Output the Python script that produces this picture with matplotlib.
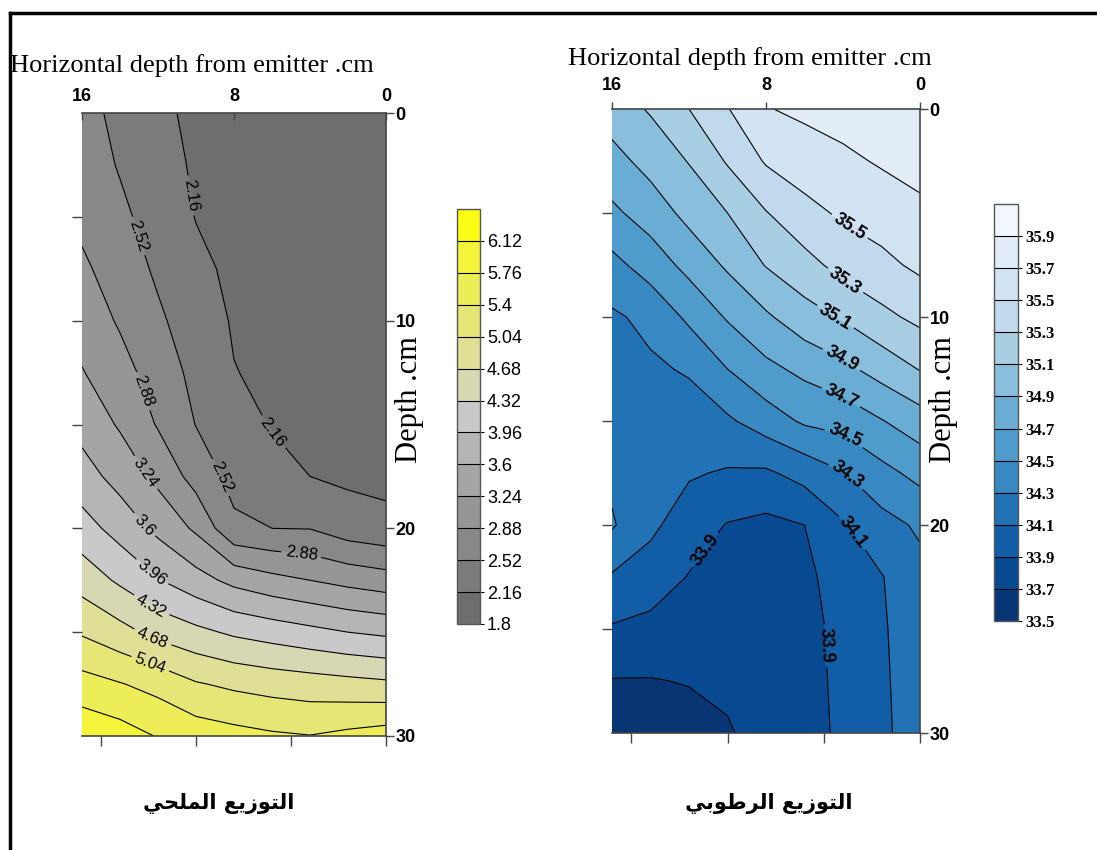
import numpy as np
import matplotlib.pyplot as plt
from matplotlib.lines import Line2D
from matplotlib.ticker import FormatStrFormatter

plt.rcParams['font.family'] = ['Liberation Sans', 'DejaVu Sans']

# horizontal distance from emitter (cm) and depth (cm) of the grid nodes
dist = [0, 2, 4, 6, 8, 10, 12, 14, 16]
depth = [0, 2.5, 5, 7.5, 10, 12.5, 15, 17.5, 20, 22.5, 25, 27.5, 30]

# salt distribution, one row per depth, columns follow dist
salt = [
    [1.92, 1.94, 1.96, 2.00, 2.04, 2.10, 2.22, 2.40, 2.68],
    [1.93, 1.95, 1.97, 2.00, 2.05, 2.12, 2.28, 2.49, 2.72],
    [1.94, 1.96, 1.98, 2.02, 2.07, 2.15, 2.36, 2.60, 2.80],
    [1.96, 1.98, 2.00, 2.04, 2.10, 2.23, 2.46, 2.72, 2.94],
    [1.98, 2.00, 2.03, 2.07, 2.13, 2.33, 2.58, 2.84, 3.09],
    [2.01, 2.03, 2.06, 2.10, 2.17, 2.42, 2.72, 3.01, 3.26],
    [2.04, 2.06, 2.09, 2.14, 2.29, 2.51, 2.85, 3.20, 3.48],
    [2.08, 2.10, 2.16, 2.28, 2.41, 2.74, 3.15, 3.47, 3.75],
    [2.25, 2.33, 2.51, 2.52, 2.59, 3.18, 3.51, 3.82, 4.11],
    [3.04, 3.13, 3.24, 3.35, 3.50, 3.74, 3.98, 4.26, 4.53],
    [3.89, 3.96, 4.06, 4.16, 4.26, 4.41, 4.57, 4.80, 5.00],
    [4.75, 4.80, 4.85, 4.90, 4.97, 5.07, 5.28, 5.42, 5.54],
    [5.57, 5.49, 5.41, 5.45, 5.52, 5.60, 5.74, 5.92, 6.04],
]

# moisture distribution, same grid
moist = [
    [35.88, 35.83, 35.78, 35.74, 35.69, 35.49, 35.30, 35.12, 35.00],
    [35.78, 35.72, 35.66, 35.60, 35.52, 35.32, 35.11, 34.97, 34.83],
    [35.65, 35.59, 35.53, 35.44, 35.29, 35.10, 34.96, 34.79, 34.66],
    [35.54, 35.45, 35.37, 35.23, 35.11, 34.93, 34.76, 34.59, 34.44],
    [35.35, 35.25, 35.12, 35.02, 34.87, 34.72, 34.54, 34.35, 34.27],
    [35.11, 34.98, 34.85, 34.75, 34.65, 34.50, 34.32, 34.27, 34.23],
    [34.81, 34.69, 34.57, 34.53, 34.40, 34.27, 34.21, 34.22, 34.22],
    [34.56, 34.44, 34.29, 34.17, 34.07, 34.08, 34.12, 34.19, 34.26],
    [34.33, 34.23, 34.08, 33.90, 33.85, 33.89, 34.00, 34.14, 34.32],
    [34.24, 34.09, 34.00, 33.85, 33.79, 33.84, 33.89, 34.01, 34.08],
    [34.20, 34.08, 33.97, 33.82, 33.76, 33.78, 33.79, 33.84, 33.88],
    [34.20, 34.07, 33.96, 33.81, 33.75, 33.72, 33.71, 33.69, 33.69],
    [34.20, 34.06, 33.95, 33.80, 33.74, 33.69, 33.62, 33.60, 33.60],
]

salt_levels = np.linspace(1.8, 6.48, 14)
moist_levels = np.linspace(33.5, 36.1, 14)

salt_colors = ['#6e6e6e', '#7b7b7b', '#888888', '#969696', '#a5a5a5', '#b5b5b5',
               '#c9c9c9', '#d7d7b4', '#dfdf96', '#e6e676', '#eded58', '#f4f43a',
               '#fbfb14']
moist_colors = plt.cm.Blues(np.linspace(0.98, 0.03, 13))

# where the contour labels sit (distance, depth)
salt_label_pos = [(10.5, 4.0), (6.5, 15.8), (13.3, 6.0), (9.1, 17.7), (13.1, 13.5),
                  (4.5, 21.6), (12.8, 17.4), (12.8, 19.9), (12.4, 22.2),
                  (12.4, 23.8), (12.3, 25.3), (12.4, 26.5)]
moist_label_pos = [(3.7, 5.7), (4.05, 8.5), (4.4, 10.0), (4.05, 12.0), (4.05, 13.75),
                   (3.9, 15.7), (3.7, 17.5), (3.4, 20.3), (11.3, 21.1), (4.9, 25.8)]

title = 'Horizontal depth from emitter .cm'
name_salt = 'التوزيع الملحي'
name_moist = 'التوزيع الرطوبي'

# matplotlib does no arabic shaping, so pick the joined glyph forms by hand
FORMS = {
    'ا': ('\ufe8d', '\ufe8e', None, None),
    'ل': ('\ufedd', '\ufede', '\ufedf', '\ufee0'),
    'ت': ('\ufe95', '\ufe96', '\ufe97', '\ufe98'),
    'و': ('\ufeed', '\ufeee', None, None),
    'ز': ('\ufeaf', '\ufeb0', None, None),
    'ي': ('\ufef1', '\ufef2', '\ufef3', '\ufef4'),
    'ع': ('\ufec9', '\ufeca', '\ufecb', '\ufecc'),
    'م': ('\ufee1', '\ufee2', '\ufee3', '\ufee4'),
    'ح': ('\ufea1', '\ufea2', '\ufea3', '\ufea4'),
    'ر': ('\ufead', '\ufeae', None, None),
    'ط': ('\ufec1', '\ufec2', '\ufec3', '\ufec4'),
    'ب': ('\ufe8f', '\ufe90', '\ufe91', '\ufe92'),
}


def shape_arabic(s):
    out = []
    for i, ch in enumerate(s):
        if ch not in FORMS:
            out.append(ch)
            continue
        prev = s[i - 1] if i > 0 else ''
        nxt = s[i + 1] if i + 1 < len(s) else ''
        jp = prev in FORMS and FORMS[prev][2] is not None
        jn = nxt in FORMS and FORMS[ch][2] is not None
        iso, fin, ini, med = FORMS[ch]
        if jp and jn:
            out.append(med)
        elif jp:
            out.append(fin)
        elif jn:
            out.append(ini)
        else:
            out.append(iso)
    return ''.join(out)[::-1]


W, H = 1097, 850
fig = plt.figure(figsize=(W / 100, H / 100), dpi=100)


def px(x0, y0, x1, y1):
    return [x0 / W, 1 - y1 / H, (x1 - x0) / W, (y1 - y0) / H]


def panel(rect, crect, z, levels, colors, lpos, lfmt, lfont, cfmt, cfont, topdir):
    ax = fig.add_axes(rect)
    cf = ax.contourf(dist, depth, z, levels=levels, colors=colors)
    cs = ax.contour(dist, depth, z, levels=levels[1:-1], colors='black', linewidths=0.8)
    labels = ax.clabel(cs, fmt=lfmt, manual=lpos, inline=True, inline_spacing=4,
                       fontsize=lfont['size'])
    for t in labels:
        t.set_fontweight(lfont['weight'])
    ax.set_xlim(16, 0)
    ax.set_ylim(30, 0)

    ax.set_xticks([16, 8, 0])
    ax.set_xticks([0, 5, 10, 15], minor=True)
    ax.set_yticks([0, 10, 20, 30])
    ax.set_yticks([5, 10, 15, 20, 25], minor=True)
    ax.xaxis.remove_overlapping_locs = False
    ax.yaxis.remove_overlapping_locs = False
    ax.xaxis.set_minor_formatter(plt.NullFormatter())
    ax.yaxis.set_minor_formatter(plt.NullFormatter())
    ax.tick_params(axis='x', which='major', top=True, bottom=False, labeltop=True,
                   labelbottom=False, direction=topdir, length=5, pad=6)
    ax.tick_params(axis='x', which='minor', top=False, bottom=True, direction='out', length=7)
    ax.tick_params(axis='y', which='major', left=False, right=True, labelleft=False,
                   labelright=True, direction='out', length=6, pad=1)
    ax.tick_params(axis='y', which='minor', left=True, right=False, direction='out', length=7)
    ax.tick_params(which='both', color='#444444', width=1)
    for t in ax.get_xticklabels() + ax.get_yticklabels():
        t.set_fontweight('bold')
        t.set_fontsize(13)
    ax.spines['left'].set_visible(False)
    for s in ['top', 'right', 'bottom']:
        ax.spines[s].set_color('#444444')
        ax.spines[s].set_linewidth(1.2)

    cax = fig.add_axes(crect)
    cb = fig.colorbar(cf, cax=cax, ticks=levels[:-1], drawedges=True)
    cb.outline.set_edgecolor('#555555')
    cb.outline.set_linewidth(1)
    cb.dividers.set_color('black')
    cb.dividers.set_linewidth(0.8)
    cb.ax.yaxis.set_major_formatter(FormatStrFormatter(cfmt))
    cb.ax.tick_params(length=3, width=0.8, pad=2)
    for t in cb.ax.get_yticklabels():
        t.set(**cfont)
    return ax


panel(px(82, 113, 386, 736), px(457, 209, 480, 624), salt, salt_levels, salt_colors,
      salt_label_pos, '%g', dict(size=12, weight='normal'),
      '%g', dict(family='Liberation Sans', size=13), 'in')
panel(px(612, 109, 920, 733), px(994, 204, 1018, 621), moist, moist_levels, moist_colors,
      moist_label_pos, '%.1f', dict(size=13, weight='bold'),
      '%.1f', dict(family='Liberation Serif', size=12, weight='bold'), 'out')

# titles and axis names
fig.text(192 / W, 1 - 72 / H, title, ha='center', va='baseline',
         family='Liberation Serif', size=19)
fig.text(750 / W, 1 - 65 / H, title, ha='center', va='baseline',
         family='Liberation Serif', size=19)
fig.text(409 / W, 1 - 400 / H, 'Depth .cm', rotation=90, ha='center', va='center',
         family='Liberation Serif', size=22)
fig.text(944 / W, 1 - 400 / H, 'Depth .cm', rotation=90, ha='center', va='center',
         family='Liberation Serif', size=22)
fig.text(219 / W, 1 - 803 / H, shape_arabic(name_salt), ha='center', va='center',
         family='DejaVu Sans', weight='bold', size=15)
fig.text(769 / W, 1 - 803 / H, shape_arabic(name_moist), ha='center', va='center',
         family='DejaVu Sans', weight='bold', size=15)

# frame lines along the top and left
fig.add_artist(Line2D([10 / W, 10 / W], [0, 1 - 13 / H], color='black', lw=2.5,
                      transform=fig.transFigure))
fig.add_artist(Line2D([10 / W, 1], [1 - 13 / H, 1 - 13 / H], color='black', lw=2.5,
                      transform=fig.transFigure))

fig.savefig('out.png', dpi=100)
